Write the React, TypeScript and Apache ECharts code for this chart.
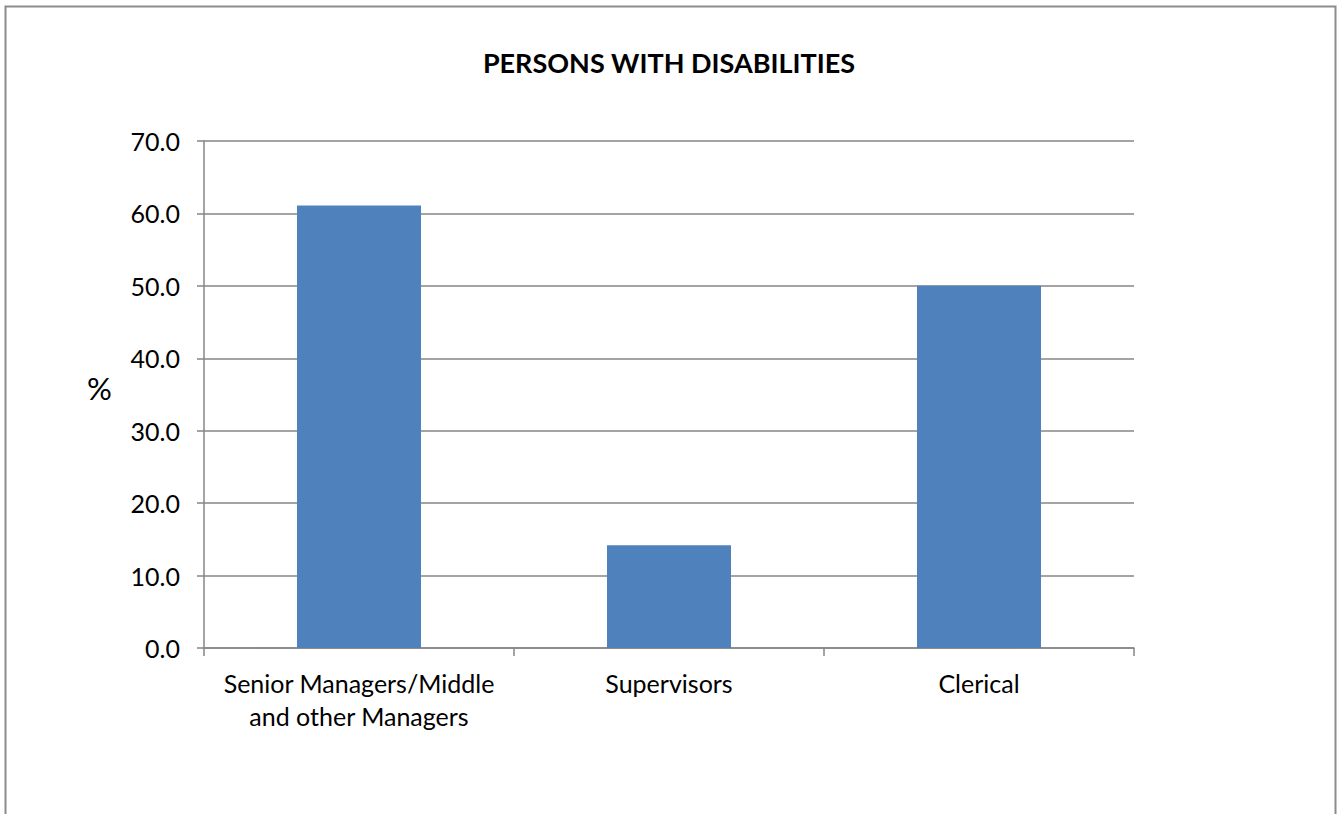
import { useEffect, useRef } from 'react';
import * as echarts from 'echarts';

const categories = ['Senior Managers/Middle\nand other Managers', 'Supervisors', 'Clerical'];
const values = [61.1, 14.2, 50.0];
const yTicks = { min: 0, max: 70, interval: 10 };

const FONT = 'Lato, "Open Sans", sans-serif';
const GRID_COLOR = '#868686';

export default function App() {
  const ref = useRef<HTMLDivElement>(null);

  useEffect(() => {
    document.body.style.margin = '0';
    if (!ref.current) return;
    const chart = echarts.init(ref.current, undefined, { renderer: 'svg' });

    chart.setOption({
      animation: false,
      backgroundColor: '#ffffff',
      title: {
        text: 'PERSONS WITH DISABILITIES',
        left: 'center',
        top: 44,
        textStyle: { fontFamily: FONT, fontSize: 27, fontWeight: 'bold', color: '#000' },
      },
      graphic: [
        {
          type: 'rect',
          shape: { x: 5.5, y: 6.5, width: 1330, height: 900 },
          style: { fill: 'none', stroke: '#8c8c8c', lineWidth: 2 },
          silent: true,
        },
        {
          type: 'text',
          left: 87,
          top: 372,
          style: { text: '%', fontFamily: FONT, fontSize: 31, fill: '#000' },
        },
      ],
      grid: { left: 204, right: 204, top: 141, bottom: 166 },
      xAxis: {
        type: 'category',
        data: categories,
        axisLine: { lineStyle: { color: GRID_COLOR, width: 1.5 } },
        axisTick: { show: true, length: 8, lineStyle: { color: GRID_COLOR, width: 1.5 } },
        axisLabel: {
          fontFamily: FONT,
          fontSize: 25,
          color: '#000',
          margin: 18,
          lineHeight: 33,
          interval: 0,
        },
      },
      yAxis: {
        type: 'value',
        min: yTicks.min,
        max: yTicks.max,
        interval: yTicks.interval,
        axisLine: { show: true, lineStyle: { color: GRID_COLOR, width: 1.5 } },
        axisTick: { show: true, length: 7, lineStyle: { color: GRID_COLOR, width: 1.5 } },
        splitLine: { lineStyle: { color: GRID_COLOR, width: 1.5 } },
        axisLabel: {
          fontFamily: FONT,
          fontSize: 25,
          color: '#000',
          margin: 24,
          formatter: (v: number) => v.toFixed(1),
        },
      },
      series: [
        {
          type: 'bar',
          data: values,
          barWidth: '40%',
          itemStyle: { color: '#4F81BD' },
        },
      ],
    });

    return () => chart.dispose();
  }, []);

  return <div ref={ref} style={{ width: 1338, height: 814 }} />;
}
